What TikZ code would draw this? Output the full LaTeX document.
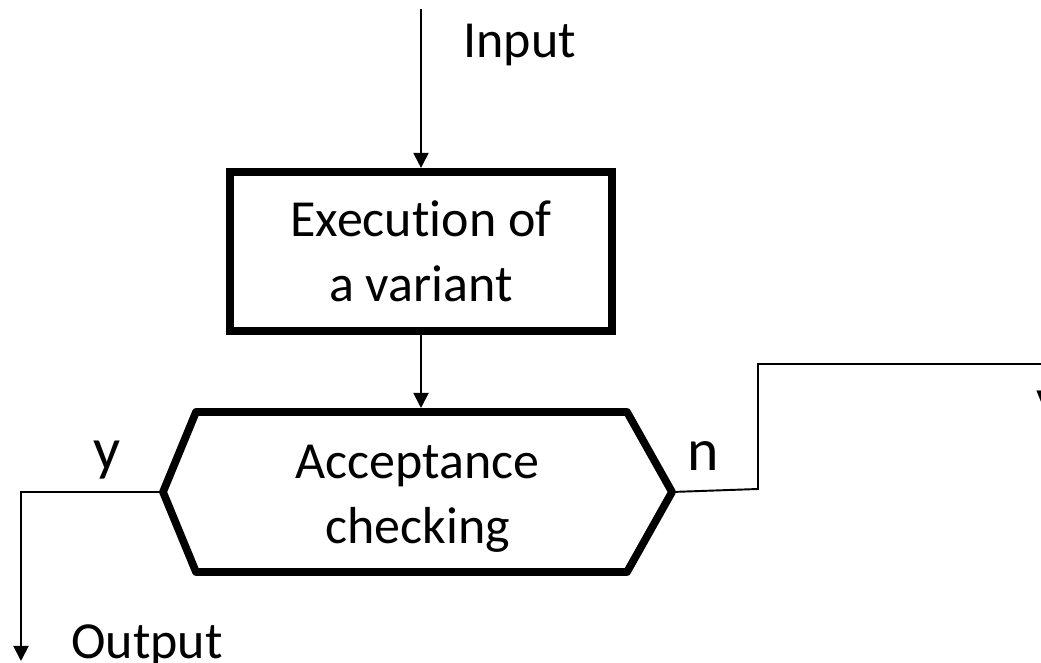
\documentclass[tikz,border=0pt]{standalone}
\usepackage{fontspec}
\setmainfont{Carlito}[Ligatures=NoCommon]
\usetikzlibrary{arrows.meta}

\begin{document}
\begin{tikzpicture}[>={Triangle[width=0.3cm,length=0.3cm]}, every node/.style={font=\fontsize{29.6}{37}\selectfont}]
    \tikzstyle{block}=[draw, line width=4.6pt, minimum width=7.64cm, minimum height=3.18cm, inner sep=0pt, align=center]
    \tikzstyle{flow}=[line width=1.1pt]
    \tikzstyle{hexline}=[line width=4.4pt, line join=round]
    \tikzstyle{io}=[anchor=base west, inner sep=0pt]
    \tikzstyle{yn}=[anchor=base west, inner sep=0pt, font=\fontsize{34}{40}\selectfont]

    \path[use as bounding box, clip] (0,0) rectangle (20.82,13.26);

    \coordinate (in) at (8.42,13.08);
    \node[io] (inlbl) at (9.26,12.10) {Input};

    \node[block] (exec) at (8.42,8.23) {Execution of\\a variant};
    \draw[flow, ->] (in) -- (exec.north);

    % decision: text node with the hexagon drawn round it
    \node[align=center, inner sep=0pt] (accept) at (8.35,3.28) {Acceptance\\checking};
    \coordinate (ytip) at (3.26,3.42);
    \coordinate (ntip) at (13.44,3.42);
    \coordinate (acctop) at (3.92,5.02);
    \draw[hexline] (ytip) -- (acctop) -- (12.54,5.02) -- (ntip) -- (12.54,1.82) -- (3.92,1.82) -- cycle;
    \draw[flow, ->, shorten >=0.08cm] (exec.south) -- (exec.south |- acctop);

    % yes branch
    \coordinate (outend) at (0.42,0.04);
    \draw[flow, ->] (ytip) -| (outend);
    \node[yn] (ylbl) at (1.86,3.86) {y};
    \node[io] (outlbl) at (1.42,0.08) {Output};

    % no branch
    \coordinate (nbend) at (15.16,3.48);
    \coordinate (nend) at (21.2,5.98);
    \draw[flow] (ntip) -- (nbend) |- (nend);
    \node[yn] (nlbl) at (13.74,3.84) {n};
    \node[yn] (yfar) at (20.72,4.86) {y};
\end{tikzpicture}
\end{document}
